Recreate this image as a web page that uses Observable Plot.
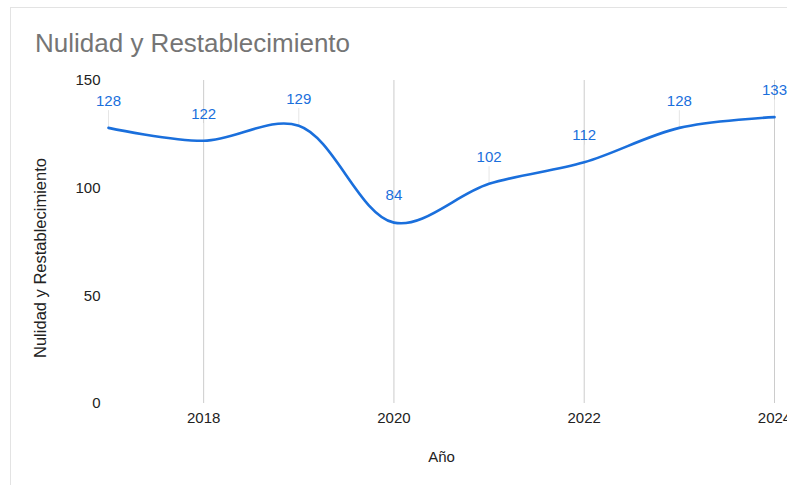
<!DOCTYPE html>
<html>
<head>
<meta charset="utf-8">
<script src="https://cdn.jsdelivr.net/npm/d3@7"></script>
<script src="https://cdn.jsdelivr.net/npm/@observablehq/plot@0.6"></script>
<style>
  html, body { margin: 0; padding: 0; background: #fff; overflow: hidden; }
  #wrap { position: relative; width: 787px; height: 485px; font-family: "Liberation Sans", Arial, sans-serif; }
  #card { position: absolute; left: 10px; top: 7px; width: 800px; height: 500px; border: 1px solid #e3e3e3; box-sizing: border-box; }
  #title { position: absolute; left: 35px; top: 29px; font-size: 26px; color: #757575; white-space: nowrap; line-height: 29px; }
  #chart { position: absolute; left: 0; top: 0; }
</style>
</head>
<body>
<div id="wrap">
  <div id="card"></div>
  <div id="title">Nulidad y Restablecimiento</div>
  <div id="chart"></div>
</div>
<script>
const years = [2017, 2018, 2019, 2020, 2021, 2022, 2023, 2024];
const values = [128, 122, 129, 84, 102, 112, 128, 133];
const xTicks = [2018, 2020, 2022, 2024];
const yTicks = [0, 50, 100, 150];
const yTitle = ["Nulidad y Restablecimiento"];

const data = years.map((y, i) => ({year: y, value: values[i]}));
const blue = "#1a6fdc";

const chart = Plot.plot({
  width: 787,
  height: 485,
  marginLeft: 108,
  marginRight: 13,
  marginTop: 80,
  marginBottom: 82,
  style: { fontFamily: "'Liberation Sans', Arial, sans-serif", fontSize: "15px", color: "#222", background: "transparent", overflow: "visible" },
  x: { domain: [2017, 2024] },
  y: { domain: [0, 150] },
  marks: [
    Plot.ruleX(xTicks, { y1: 0, y2: 150, stroke: "#cccccc", strokeWidth: 1 }),
    Plot.ruleX(data, { x: "year", y1: "value", y2: d => d.value + 8, stroke: "#e6e6e6", strokeWidth: 1 }),
    Plot.axisX({ ticks: xTicks, tickFormat: "d", tickSize: 0, tickPadding: 9, fontSize: 15, label: "Año", labelAnchor: "center", labelArrow: "none", labelOffset: 58 }),
    Plot.axisY({ ticks: yTicks, tickSize: 0, tickPadding: 8, fontSize: 15, label: null }),
    Plot.text(yTitle, { text: d => d, frameAnchor: "left", textAnchor: "middle", rotate: -90, dx: -68, dy: 16, fontSize: 16.5, fill: "#222" }),
    Plot.line(data, { x: "year", y: "value", curve: "catmull-rom", stroke: blue, strokeWidth: 2.6 }),
    Plot.text(data, { x: "year", y: "value", text: d => String(d.value), dy: -27, fill: blue, fontSize: 15 })
  ]
});
document.getElementById("chart").appendChild(chart);
</script>
</body>
</html>
